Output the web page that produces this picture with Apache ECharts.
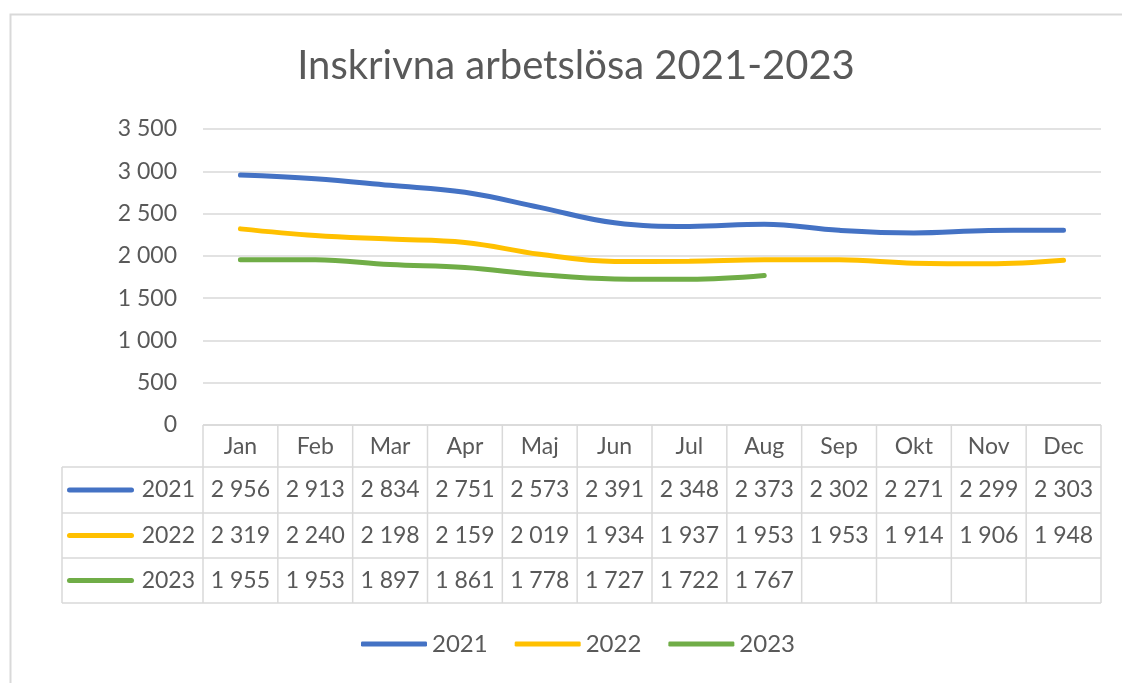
<!DOCTYPE html>
<html>
<head>
<meta charset="utf-8">
<script src="https://cdn.jsdelivr.net/npm/echarts@6/dist/echarts.min.js"></script>
<style>
  html, body { margin: 0; padding: 0; background: #fff; }
  #chart { width: 1122px; height: 683px; }
</style>
</head>
<body>
<div id="chart"></div>
<script>
// data
const months = ['Jan', 'Feb', 'Mar', 'Apr', 'Maj', 'Jun', 'Jul', 'Aug', 'Sep', 'Okt', 'Nov', 'Dec'];
const years = ['2021', '2022', '2023'];
const values2021 = [2956, 2913, 2834, 2751, 2573, 2391, 2348, 2373, 2302, 2271, 2299, 2303];
const values2022 = [2319, 2240, 2198, 2159, 2019, 1934, 1937, 1953, 1953, 1914, 1906, 1948];
const values2023 = [1955, 1953, 1897, 1861, 1778, 1727, 1722, 1767];
const yMin = 0;
const yMax = 3500;
const yStep = 500;

const colors = ['#4472C4', '#FFC000', '#70AD47'];
const textColor = '#595959';
const borderColor = '#d9d9d9';
const font = 'Lato';

// layout
const gridLeft = 203, gridRight = 1101, gridTop = 129, gridBottom = 425;
const rowY = [425, 467, 513, 558, 603];
const labelColLeft = 62;

const fmt = v => String(v).replace(/\B(?=(\d{3})+(?!\d))/g, ' ');

const chart = echarts.init(document.getElementById('chart'));
const allValues = [values2021, values2022, values2023];

chart.setOption({
  backgroundColor: '#fff',
  animation: false,
  color: colors,
  title: {
    text: 'Inskrivna arbetslösa 2021-2023',
    left: 571,
    top: 41,
    textAlign: 'center',
    textStyle: { fontFamily: font, fontSize: 40, fontWeight: 'normal', color: textColor }
  },
  grid: {
    left: gridLeft,
    right: 1122 - gridRight,
    top: gridTop,
    bottom: 683 - gridBottom,
    containLabel: false
  },
  legend: {
    data: years,
    left: 356,
    top: 627,
    icon: 'roundRect',
    itemWidth: 66,
    itemHeight: 5,
    itemGap: 27,
    textStyle: { fontFamily: font, fontSize: 24, color: textColor }
  },
  xAxis: {
    type: 'category',
    data: months,
    boundaryGap: true,
    axisLine: { show: false },
    axisTick: { show: false },
    axisLabel: { margin: 10, fontFamily: font, fontSize: 23, color: textColor }
  },
  yAxis: {
    type: 'value',
    min: yMin,
    max: yMax,
    interval: yStep,
    axisLine: { show: false },
    axisTick: { show: false },
    axisLabel: { margin: 26, fontFamily: font, fontSize: 23, color: textColor, formatter: fmt },
    splitLine: { lineStyle: { color: borderColor, width: 1.5 } }
  },
  series: years.map((y, i) => ({
    name: y,
    type: 'line',
    data: allValues[i],
    smooth: 0.4,
    symbol: 'none',
    lineStyle: { width: 5, color: colors[i], cap: 'round' }
  }))
});

// data table under the plot
const colW = (gridRight - gridLeft) / months.length;
const g = [];
g.push({
  type: 'rect',
  shape: { x: 10.5, y: 14.5, width: 1300, height: 900 },
  style: { fill: null, stroke: borderColor, lineWidth: 2 },
  silent: true
});
// horizontal lines
rowY.forEach((y, k) => {
  g.push({
    type: 'line',
    shape: { x1: k === 0 ? gridLeft : labelColLeft, y1: y, x2: gridRight, y2: y },
    style: { stroke: borderColor, lineWidth: 1.5 }
  });
});
// vertical lines
g.push({
  type: 'line',
  shape: { x1: labelColLeft, y1: rowY[1], x2: labelColLeft, y2: rowY[4] },
  style: { stroke: borderColor, lineWidth: 1.5 }
});
for (let k = 0; k <= months.length; k++) {
  const x = gridLeft + k * colW;
  g.push({
    type: 'line',
    shape: { x1: x, y1: rowY[0], x2: x, y2: rowY[4] },
    style: { stroke: borderColor, lineWidth: 1.5 }
  });
}
// row labels and cells
years.forEach((y, r) => {
  const cy = (rowY[r + 1] + rowY[r + 2]) / 2;
  g.push({
    type: 'rect',
    shape: { x: 67, y: cy - 2.5, width: 67, height: 5, r: 2.5 },
    style: { fill: colors[r] }
  });
  g.push({
    type: 'text',
    x: 195, y: cy,
    style: { text: y, fontFamily: font, fontSize: 23, fill: textColor, align: 'right', verticalAlign: 'middle' }
  });
  allValues[r].forEach((v, i) => {
    const cx = chart.convertToPixel({ xAxisIndex: 0 }, i);
    g.push({
      type: 'text',
      x: cx, y: cy,
      style: { text: fmt(v), fontFamily: font, fontSize: 23, fill: textColor, align: 'center', verticalAlign: 'middle' }
    });
  });
});

chart.setOption({ graphic: g });
</script>
</body>
</html>
